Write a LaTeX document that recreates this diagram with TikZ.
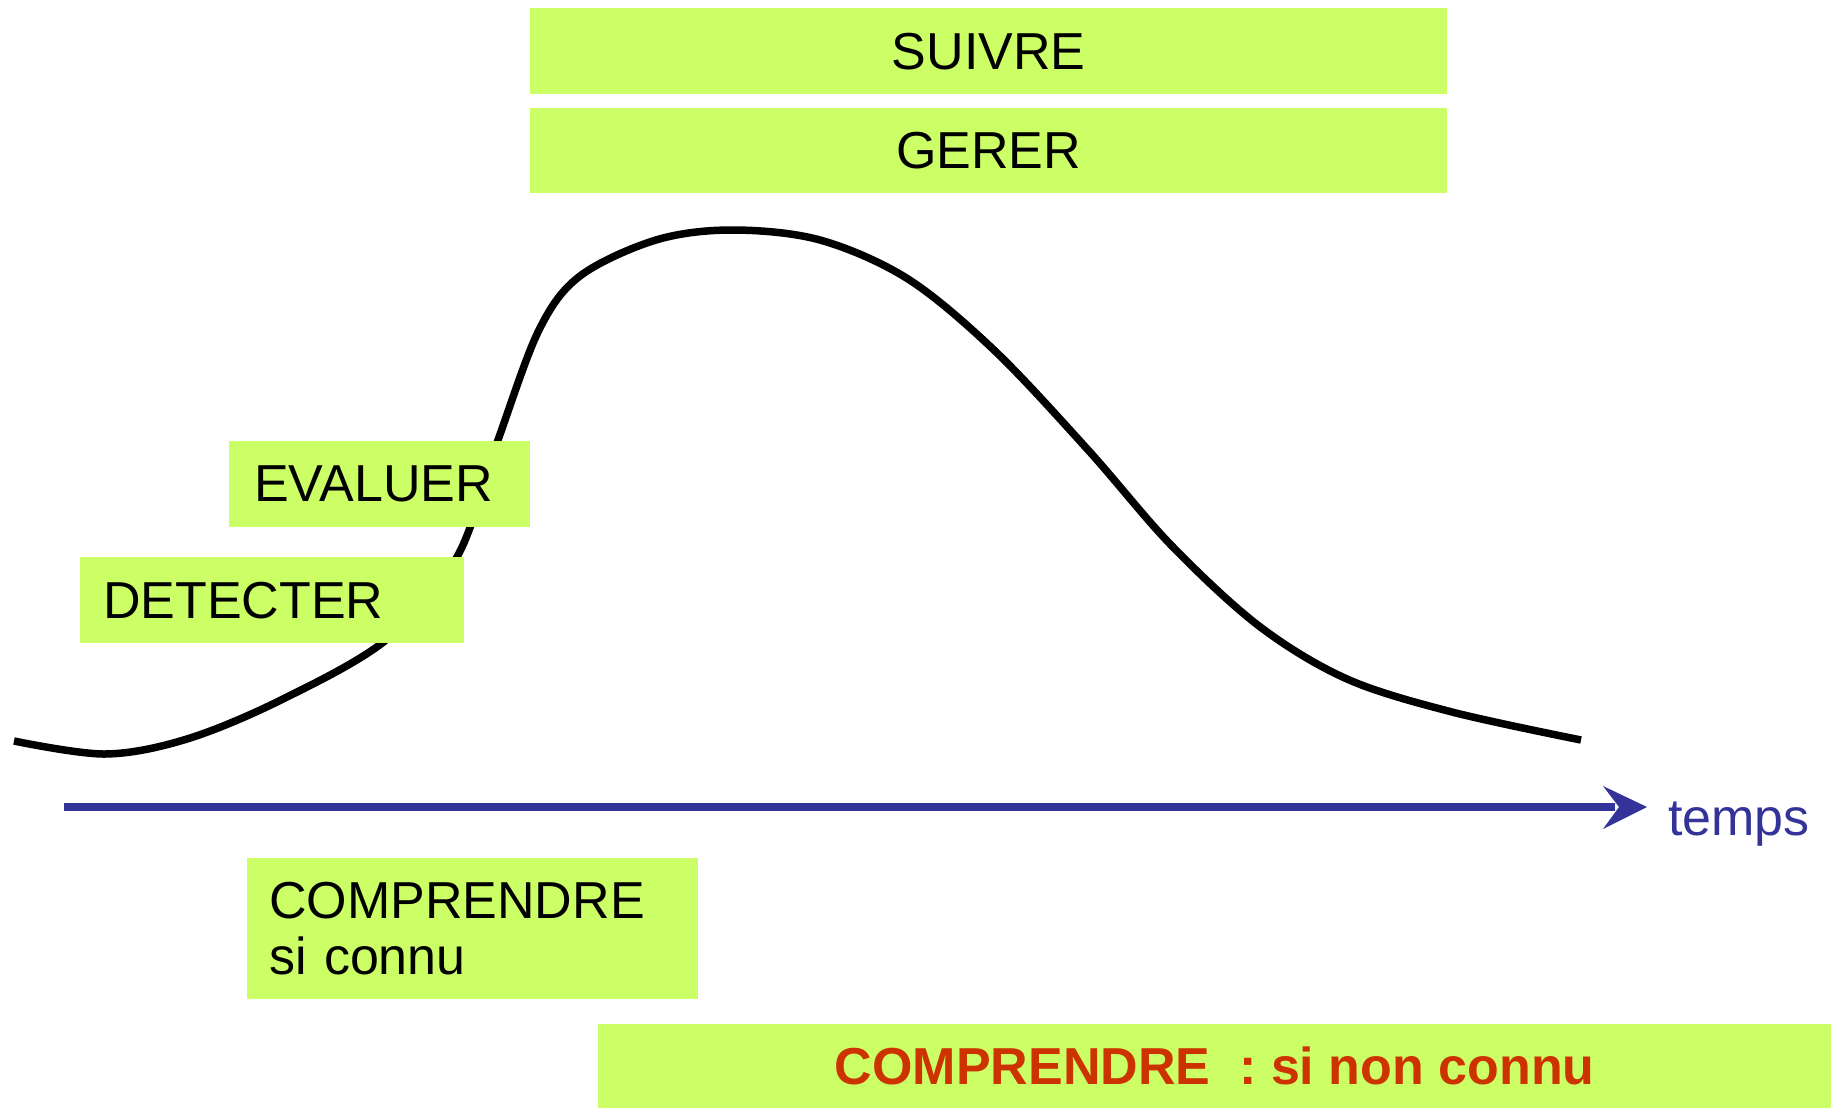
\documentclass[tikz,border=0pt]{standalone}
\usepackage{fontspec}
\setmainfont{Liberation Sans}
\definecolor{boxgreen}{HTML}{CCFF66}
\definecolor{axisblue}{HTML}{333399}
\definecolor{redtext}{HTML}{CC3300}
\begin{document}
\begin{tikzpicture}[x=1pt,y=-1pt,
  greenbox/.style={fill=boxgreen, draw=none, inner sep=0pt, anchor=north west,
    font=\fontsize{52}{56}\selectfont},
  leftbox/.style={greenbox, align=left},
  axisline/.style={draw=axisblue, line width=8pt},
  curveline/.style={draw=black, line width=7.5pt}]
\useasboundingbox (0,0) rectangle (1836,1108);
% curve
\draw[curveline] plot[smooth, tension=0.55] coordinates {
 (14,741) (105,754) (187,739) (281,700) (386,640) (457,557) (498,440)
 (539,330) (580,276) (656,240) (732,230) (820,240) (908,279) (995,351)
 (1089,451) (1171,545) (1259,626) (1347,679) (1452,712) (1581,740)};
% boxes
\node[greenbox, minimum width=917pt, minimum height=86pt] (suivre) at (530,8) {SUIVRE};
\node[greenbox, minimum width=917pt, minimum height=85pt] (gerer) at (530,108) {GERER};
\node[leftbox, inner xsep=25pt, text width=251pt, minimum height=86pt] (evaluer) at (229,441) {EVALUER};
\node[leftbox, inner xsep=23pt, text width=338pt, minimum height=86pt] (detecter) at (80,557) {DETECTER};
\node[leftbox, inner xsep=22pt, text width=407pt, minimum height=141pt] (comprconnu) at (247,858) {COMPRENDRE\\si connu};
\node[greenbox, minimum width=1233pt, minimum height=84pt, text=redtext,
  font=\fontsize{52}{56}\selectfont\bfseries] (comprnon) at (598,1024) {COMPRENDRE\ \ : si non connu};
% time axis
\coordinate (axstart) at (64,807);
\coordinate (axend) at (1615,807);
\coordinate (tip) at (1647,807);
\coordinate (wingup) at (1603,786);
\coordinate (notch) at (1619,807);
\coordinate (wingdown) at (1603,829);
\draw[axisline] (axstart) -- (axend);
\fill[axisblue] (tip) -- (wingup) -- (notch) -- (wingdown) -- cycle;
\node[anchor=base west, inner sep=0pt, text=axisblue, font=\fontsize{52}{56}\selectfont] (temps) at (1668,835) {temps};
\end{tikzpicture}
\end{document}
